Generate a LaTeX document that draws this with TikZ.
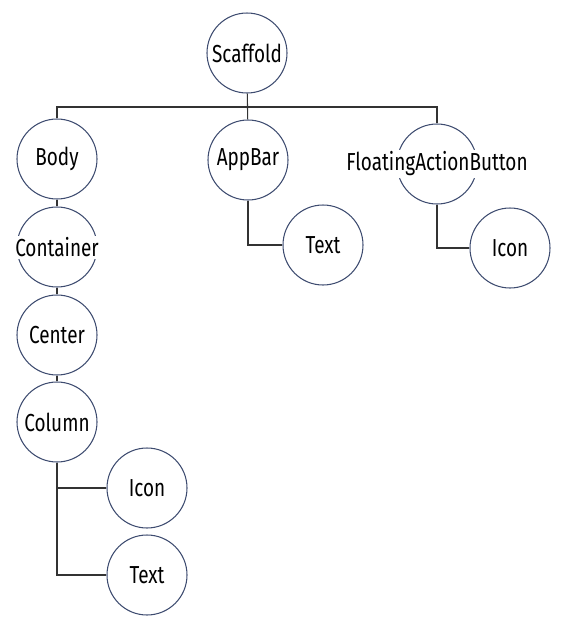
\documentclass[tikz,border=0pt]{standalone}
\usepackage{fontspec}
\newfontfamily\widgetfont{Fira Sans}[FakeStretch=0.77]
\usepackage{xcolor}
\usepackage{tikz}
\usetikzlibrary{positioning}

\definecolor{ringblue}{RGB}{62,76,112}
\definecolor{wiregray}{RGB}{51,51,51}

\begin{document}
\begin{tikzpicture}[
  x=0.2mm, y=-0.2mm,
  ring/.style={draw=ringblue, line width=0.6pt, circle, minimum size=16mm, inner sep=0pt},
  tag/.style={fill=white, inner sep=1pt, text=black, font=\widgetfont\fontsize{14}{16}\selectfont},
  wire/.style={draw=wiregray, line width=0.6pt}
]
\useasboundingbox (0,0) rectangle (567,625);

% widget circles
\node[ring] (scaffold)  at (247,53)  {};
\node[ring] (body)      at (57,159)  {};
\node[ring] (appbar)    at (248,160) {};
\node[ring] (fab)       at (437,164) {};
\node[ring] (container) at (57,247)  {};
\node[ring] (center)    at (57,335)  {};
\node[ring] (column)    at (57,422)  {};
\node[ring] (coltext0)  at (147,488) {};
\node[ring] (coltext1)  at (147,575) {};
\node[ring] (bartext)   at (323,245) {};
\node[ring] (fabicon)   at (510,248) {};
\coordinate (bus) at (247,107);

% connectors
\draw[wire] (scaffold) -- (appbar);
\draw[wire] (body.north) |- (fab.north |- bus) -- (fab.north);
\draw[wire] (body) -- (container);
\draw[wire] (container) -- (center);
\draw[wire] (center) -- (column);
\draw[wire] (column.south) |- (coltext0.west);
\draw[wire] (column.south) |- (coltext1.west);
\draw[wire] (appbar.south) |- (bartext.west);
\draw[wire] (fab.south) |- (fabicon.west);

% labels
\node[tag] at (scaffold)  {Scaffold};
\node[tag] at (body)      {Body};
\node[tag] at (appbar)    {AppBar};
\node[tag] at (fab)       {FloatingActionButton};
\node[tag] at (container) {Container};
\node[tag] at (center)    {Center};
\node[tag] at (column)    {Column};
\node[tag] at (coltext0)  {Icon};
\node[tag] at (coltext1)  {Text};
\node[tag] at (bartext)   {Text};
\node[tag] at (fabicon)   {Icon};
\end{tikzpicture}
\end{document}
